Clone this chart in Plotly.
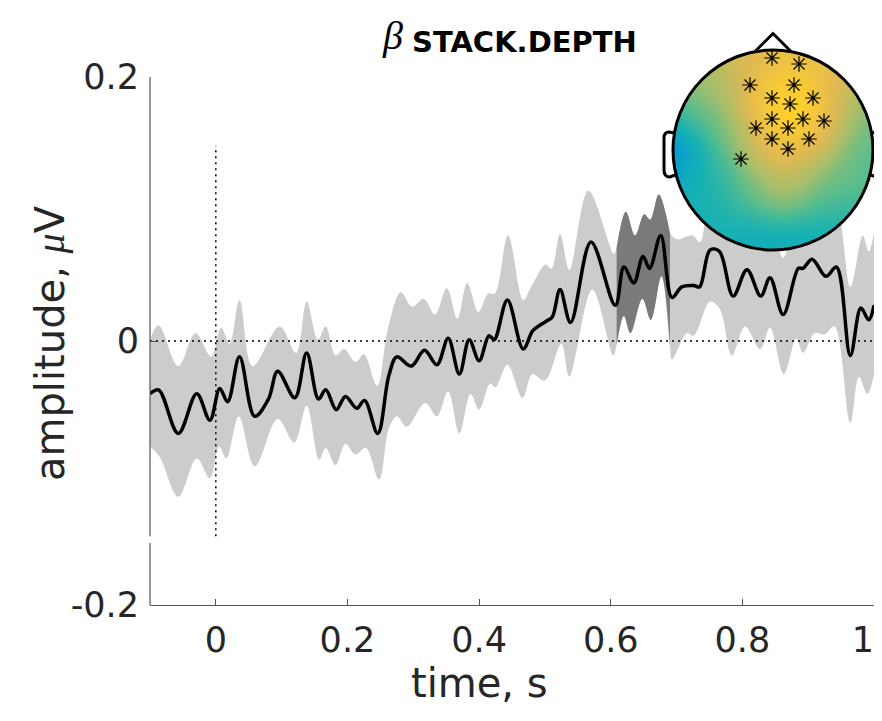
import numpy as np
import plotly.graph_objects as go

# ---------------- data ----------------
t_mean = [-0.100, -0.087, -0.057, -0.029, -0.009, 0.006, 0.018, 0.036, 0.059, 0.080, 0.094,
          0.120, 0.138, 0.156, 0.167, 0.183, 0.197, 0.214, 0.226, 0.246, 0.263, 0.275,
          0.297, 0.317, 0.336, 0.353, 0.370, 0.385, 0.400, 0.415, 0.423, 0.443, 0.467,
          0.482, 0.502, 0.511, 0.523, 0.539, 0.570, 0.607, 0.620, 0.635, 0.649, 0.659,
          0.676, 0.693, 0.708, 0.726, 0.735, 0.751, 0.765, 0.786, 0.807, 0.828, 0.842,
          0.862, 0.885, 0.892, 0.906, 0.927, 0.943, 0.964, 0.980, 0.992, 1.000]
v_mean = [-0.040, -0.037, -0.070, -0.040, -0.060, -0.036, -0.046, -0.012, -0.057, -0.044, -0.023,
          -0.043, -0.009, -0.044, -0.037, -0.052, -0.042, -0.051, -0.045, -0.070, -0.026, -0.012,
          -0.019, -0.007, -0.018, 0.002, -0.025, 0.001, -0.015, 0.004, 0.001, 0.031, -0.006,
          0.008, 0.015, 0.018, 0.039, 0.014, 0.075, 0.027, 0.056, 0.044, 0.064, 0.055,
          0.080, 0.033, 0.041, 0.042, 0.041, 0.069, 0.068, 0.034, 0.054, 0.034, 0.048,
          0.020, 0.055, 0.055, 0.062, 0.049, 0.056, -0.011, 0.025, 0.016, 0.027]

t_upper = [-0.100, -0.087, -0.057, -0.031, -0.007, 0.008, 0.021, 0.036, 0.056, 0.097, 0.122,
           0.138, 0.155, 0.167, 0.182, 0.195, 0.212, 0.225, 0.245, 0.261, 0.281, 0.298,
           0.316, 0.333, 0.351, 0.367, 0.382, 0.399, 0.414, 0.424, 0.444, 0.467, 0.479,
           0.501, 0.510, 0.523, 0.537, 0.566, 0.605, 0.609, 0.623, 0.637, 0.651, 0.660,
           0.673, 0.690, 0.701, 0.724, 0.736, 0.751, 0.765, 0.786, 0.807, 0.828, 0.842,
           0.862, 0.885, 0.906, 0.927, 0.943, 0.964, 0.983, 0.992, 1.000]
v_upper = [0.001, 0.012, -0.019, 0.006, -0.012, 0.010, -0.002, 0.031, -0.019, 0.011, -0.009,
           0.030, 0.001, 0.011, -0.011, -0.006, -0.016, -0.010, -0.034, 0.008, 0.037, 0.026,
           0.032, 0.020, 0.040, 0.017, 0.044, 0.022, 0.036, 0.036, 0.080, 0.031, 0.041,
           0.058, 0.055, 0.081, 0.054, 0.114, 0.066, 0.071, 0.098, 0.080, 0.096, 0.092,
           0.111, 0.082, 0.077, 0.080, 0.075, 0.110, 0.108, 0.080, 0.098, 0.080, 0.092,
           0.063, 0.100, 0.106, 0.093, 0.100, 0.041, 0.080, 0.068, 0.082]

t_lower = [-0.100, -0.085, -0.057, -0.029, -0.009, 0.005, 0.016, 0.035, 0.059, 0.094, 0.119,
           0.138, 0.157, 0.167, 0.182, 0.197, 0.212, 0.228, 0.248, 0.263, 0.275, 0.290,
           0.318, 0.336, 0.353, 0.370, 0.387, 0.400, 0.417, 0.425, 0.443, 0.466, 0.481,
           0.500, 0.525, 0.537, 0.572, 0.604, 0.609, 0.620, 0.630, 0.648, 0.661, 0.677,
           0.690, 0.693, 0.716, 0.726, 0.751, 0.766, 0.784, 0.804, 0.827, 0.842, 0.863,
           0.882, 0.892, 0.910, 0.925, 0.940, 0.964, 0.977, 0.990, 1.000]
v_lower = [-0.080, -0.088, -0.118, -0.089, -0.104, -0.080, -0.089, -0.057, -0.095, -0.059, -0.077,
           -0.049, -0.090, -0.081, -0.094, -0.078, -0.086, -0.081, -0.105, -0.066, -0.057, -0.065,
           -0.047, -0.057, -0.038, -0.070, -0.040, -0.052, -0.032, -0.035, -0.018, -0.043, -0.025,
           -0.030, -0.002, -0.027, 0.039, -0.011, -0.003, 0.019, 0.006, 0.032, 0.016, 0.049,
           -0.004, -0.014, 0.006, 0.004, 0.030, 0.024, -0.011, 0.011, -0.006, 0.010, -0.025,
           0.002, -0.009, 0.006, 0.005, 0.011, -0.062, -0.027, -0.040, -0.025]

sig_window = [0.609, 0.690]          # significant cluster (dark band)
x_range = [-0.1, 1.0]
y_range = [-0.2, 0.2]
x_ticks = [0, 0.2, 0.4, 0.6, 0.8, 1]
x_ticklabels = ["0", "0.2", "0.4", "0.6", "0.8", "1\u00a0\u00a0"]
y_ticks = [-0.2, 0, 0.2]
y_ticklabels = ["-0.2", "0", "0.2"]
onset_extent = [-0.148, 0.148]       # vertical dotted line at t = 0
y_axis_break = [-0.153, -0.148]      # gap in the y-axis line

# topography: sampled values (head coords, unit radius) in colormap units 0..1
topo_x = [-0.98, -0.77, -0.84, -0.60, -0.27, 0.00, 0.30, 0.60, 0.86, 0.95, 0.90,
          0.73, 0.46, 0.53, 0.20, 0.00, 0.16, -0.27, -0.27, -0.54, -0.54, 0.00,
          0.13, 0.13, -0.17, 0.46, 0.73, -0.60, -0.27, 0.16, 0.46, -0.77, 0.00]
topo_y = [-0.03, -0.10, 0.30, 0.63, 0.87, 0.93, 0.83, 0.67, 0.40, 0.13, -0.20,
          -0.20, 0.03, 0.30, 0.43, 0.43, 0.63, 0.43, 0.03, 0.20, -0.20, 0.10,
          -0.23, -0.50, -0.43, -0.43, -0.63, -0.57, -0.77, -0.83, -0.77, -0.37, -0.97]
topo_val = [0.18, 0.40, 0.48, 0.60, 0.68, 0.72, 0.74, 0.70, 0.58, 0.50, 0.48,
            0.54, 0.70, 0.75, 0.88, 0.80, 0.78, 0.68, 0.62, 0.52, 0.46, 0.77,
            0.70, 0.62, 0.52, 0.53, 0.44, 0.41, 0.39, 0.37, 0.38, 0.39, 0.38]

elec_x = [-0.01, 0.26, -0.23, 0.21, -0.01, 0.40, 0.17, -0.01, 0.30, 0.51, -0.17,
          0.15, -0.01, 0.36, 0.15, -0.32]
elec_y = [0.92, 0.86, 0.65, 0.65, 0.52, 0.52, 0.46, 0.31, 0.31, 0.29, 0.22,
          0.22, 0.11, 0.11, 0.01, -0.09]

parula = [[0.0, "rgb(53,42,135)"], [0.1, "rgb(15,92,221)"], [0.2, "rgb(18,125,216)"],
          [0.3, "rgb(7,156,207)"], [0.4, "rgb(21,177,180)"], [0.5, "rgb(89,189,140)"],
          [0.6, "rgb(165,190,107)"], [0.7, "rgb(225,185,82)"], [0.8, "rgb(252,206,46)"],
          [0.9, "rgb(245,236,24)"], [1.0, "rgb(249,251,14)"]]

# ---------------- figure ----------------
FONT = "DejaVu Sans"
AXC = "#555555"
TXT = "#262626"

fig = go.Figure()

line_kw = dict(width=0, shape="spline", smoothing=1.0)
fig.add_trace(go.Scatter(x=t_lower, y=v_lower, mode="lines", line=line_kw,
                         hoverinfo="skip", showlegend=False))
fig.add_trace(go.Scatter(x=t_upper, y=v_upper, mode="lines", line=line_kw,
                         fill="tonexty", fillcolor="#cccccc",
                         hoverinfo="skip", showlegend=False))

tu, vu = np.array(t_upper), np.array(v_upper)
tl, vl = np.array(t_lower), np.array(v_lower)
mu = (tu >= sig_window[0] - 1e-9) & (tu <= sig_window[1] + 1e-9)
ml = (tl >= sig_window[0] - 1e-9) & (tl <= sig_window[1] + 1e-9)
fig.add_trace(go.Scatter(x=tl[ml], y=vl[ml], mode="lines", line=line_kw,
                         hoverinfo="skip", showlegend=False))
fig.add_trace(go.Scatter(x=tu[mu], y=vu[mu], mode="lines", line=line_kw,
                         fill="tonexty", fillcolor="#7a7a7a",
                         hoverinfo="skip", showlegend=False))

# dotted reference lines
fig.add_trace(go.Scatter(x=x_range, y=[0, 0], mode="lines",
                         line=dict(color="black", width=1.5, dash="2px,4px"),
                         hoverinfo="skip", showlegend=False))
fig.add_trace(go.Scatter(x=[0, 0], y=onset_extent, mode="lines",
                         line=dict(color="black", width=1.5, dash="2px,4px"),
                         hoverinfo="skip", showlegend=False))

# mean beta time course
fig.add_trace(go.Scatter(x=t_mean, y=v_mean, mode="lines",
                         line=dict(color="black", width=3.5, shape="spline", smoothing=1.0),
                         hoverinfo="skip", showlegend=False))

# ---------------- topography inset ----------------
g = np.linspace(-1, 1, 201)
GX, GY = np.meshgrid(g, g)
ax_ = np.array(topo_x)
ay_ = np.array(topo_y)
av_ = np.array(topo_val)
sigma = 0.2
W = np.exp(-((GX[..., None] - ax_) ** 2 + (GY[..., None] - ay_) ** 2) / (2 * sigma ** 2))
Z = (W * av_).sum(-1) / W.sum(-1)
Z[GX ** 2 + GY ** 2 > 1.0] = np.nan

fig.add_trace(go.Heatmap(x=g, y=g, z=Z, colorscale=parula, zmin=0, zmax=1,
                         showscale=False, hoverinfo="skip", xaxis="x2", yaxis="y2"))
fig.add_trace(go.Scatter(x=elec_x, y=elec_y, mode="markers", xaxis="x2", yaxis="y2",
                         marker=dict(symbol="asterisk-open", size=13, color="black",
                                     line=dict(color="black", width=1.2)),
                         hoverinfo="skip", showlegend=False))

head_line = dict(color="black", width=3)
shapes = [
    dict(type="circle", xref="x2", yref="y2", x0=-1, x1=1, y0=-1, y1=1, line=head_line),
    dict(type="path", xref="x2", yref="y2", line=head_line,
         path="M -0.18 0.985 L 0 1.165 L 0.18 0.985"),
    dict(type="path", xref="x2", yref="y2", line=head_line,
         path="M -0.99 0.17 L -1.04 0.18 Q -1.09 0.18 -1.09 0.12 L -1.09 -0.2 "
              "Q -1.09 -0.27 -1.03 -0.27 L -0.98 -0.25"),
    dict(type="path", xref="x2", yref="y2", line=head_line,
         path="M 0.99 0.17 L 1.04 0.18 Q 1.09 0.18 1.09 0.12 L 1.09 -0.2 "
              "Q 1.09 -0.27 1.03 -0.27 L 0.98 -0.25"),
    # y-axis line with a small break
    dict(type="line", xref="paper", yref="y", x0=0, x1=0, y0=y_range[1], y1=y_axis_break[1],
         line=dict(color=AXC, width=1.2)),
    dict(type="line", xref="paper", yref="y", x0=0, x1=0, y0=y_axis_break[0], y1=y_range[0],
         line=dict(color=AXC, width=1.2)),
]

annotations = [
    dict(text="<i>β</i>", xref="paper", yref="paper", x=0.3343, y=0.974,
         showarrow=False, xanchor="center", yanchor="middle",
         font=dict(family="Liberation Serif", size=40, color="black")),
    dict(text="<b>STACK.DEPTH</b>", xref="paper", yref="paper", x=0.5166, y=0.962,
         showarrow=False, xanchor="center", yanchor="middle",
         font=dict(family=FONT, size=29, color="black")),
    dict(text="time, s", xref="paper", yref="paper", x=0.4558, y=-0.133,
         showarrow=False, xanchor="center", yanchor="middle",
         font=dict(family=FONT, size=40, color=TXT)),
    dict(text="amplitude, <span style=\"font-family:Liberation Serif\"><i>μ</i></span>V",
         xref="paper", yref="paper", x=-0.1381, y=0.4479, textangle=-90,
         showarrow=False, xanchor="center", yanchor="middle",
         font=dict(family=FONT, size=40, color=TXT)),
]

# the page body adds an 8 px margin; keep the figure small enough not to overflow
fig.update_layout(
    width=866, height=705,
    margin=dict(l=142, r=0, t=12, b=108, autoexpand=False),
    paper_bgcolor="white", plot_bgcolor="rgba(0,0,0,0)",
    showlegend=False, hovermode=False,
    shapes=shapes, annotations=annotations,
    xaxis=dict(range=x_range, domain=[0, 1], showline=True, linecolor=AXC, linewidth=1.2,
               ticks="inside", ticklen=6, tickcolor=AXC, tickwidth=1.2,
               tickvals=x_ticks, ticktext=x_ticklabels, ticklabelstandoff=4,
               ticklabeloverflow="allow",
               tickfont=dict(family=FONT, size=35, color=TXT), automargin=False,
               showgrid=False, zeroline=False),
    yaxis=dict(range=y_range, domain=[0, 528 / 585], showline=False,
               ticks="inside", ticklen=6, tickcolor=AXC, tickwidth=1.2,
               tickvals=y_ticks, ticktext=y_ticklabels, ticklabelstandoff=10,
               tickfont=dict(family=FONT, size=35, color=TXT), automargin=False,
               showgrid=False, zeroline=False),
    xaxis2=dict(domain=[0.70580, 1.0], range=[-1.12, 1.01], visible=False, anchor="y2"),
    yaxis2=dict(domain=[0.60342, 0.98291], range=[-1.02, 1.2], visible=False, anchor="x2"),
)

fig.write_html("out.html")
